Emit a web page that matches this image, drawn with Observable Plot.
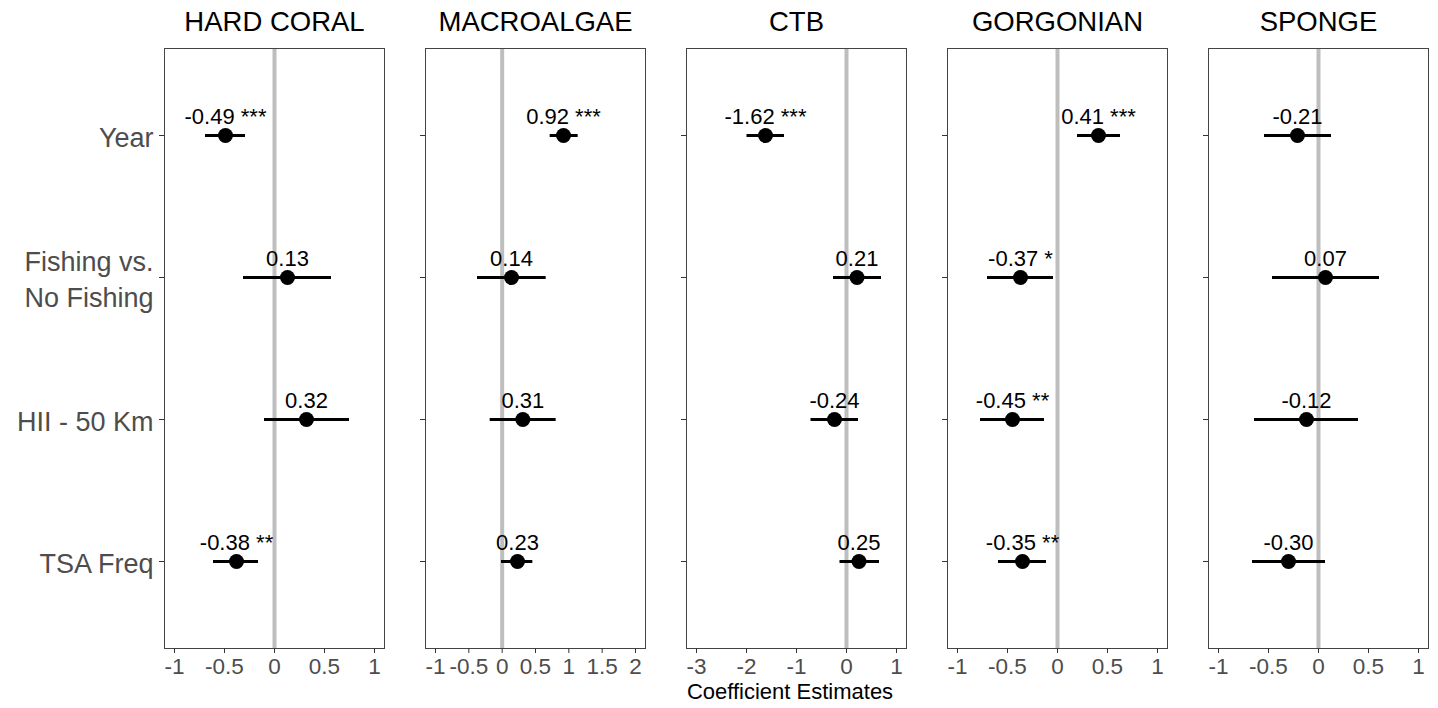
<!DOCTYPE html>
<html><head><meta charset="utf-8">
<script src="https://cdn.jsdelivr.net/npm/d3@7"></script>
<script src="https://cdn.jsdelivr.net/npm/@observablehq/plot@0.6"></script>
<style>
html,body{margin:0;padding:0;background:#fff;}
#chart{position:relative;width:1438px;height:708px;font-family:"Liberation Sans",Arial,sans-serif;overflow:hidden;}
#row{display:flex;flex-direction:row;align-items:flex-start;}
#xlabel{position:absolute;left:164px;width:1252px;top:680px;text-align:center;font-size:22px;color:#000;line-height:24px;}
</style></head><body>
<div id="chart"><div id="row"></div><div id="xlabel">Coefficient Estimates</div></div>
<script>
const panels = ["HARD CORAL", "MACROALGAE", "CTB", "GORGONIAN", "SPONGE"];
const predictors = ["Year", "Fishing vs.\nNo Fishing", "HII - 50 Km", "TSA Freq"];
const estimate = [
  [-0.49, 0.13, 0.32, -0.38],
  [0.92, 0.14, 0.31, 0.23],
  [-1.62, 0.21, -0.24, 0.25],
  [0.41, -0.37, -0.45, -0.35],
  [-0.21, 0.07, -0.12, -0.30]
];
const lower = [
  [-0.69, -0.31, -0.10, -0.61],
  [0.72, -0.37, -0.18, -0.01],
  [-1.99, -0.26, -0.71, -0.13],
  [0.20, -0.70, -0.77, -0.59],
  [-0.54, -0.46, -0.64, -0.66]
];
const upper = [
  [-0.29, 0.57, 0.75, -0.16],
  [1.14, 0.66, 0.81, 0.46],
  [-1.24, 0.70, 0.24, 0.66],
  [0.63, -0.04, -0.13, -0.11],
  [0.13, 0.61, 0.40, 0.07]
];
const stars = [
  ["***", "", "", "**"],
  ["***", "", "", ""],
  ["***", "", "", ""],
  ["***", "*", "**", "**"],
  ["", "", "", ""]
];
const xTicks = [
  [-1, -0.5, 0, 0.5, 1],
  [-1, -0.5, 0, 0.5, 1, 1.5, 2],
  [-3, -2, -1, 0, 1],
  [-1, -0.5, 0, 0.5, 1],
  [-1, -0.5, 0, 0.5, 1]
];
const xLimits = [
  [-1, 1],
  [-1, 2],
  [-3, 1],
  [-1, 1],
  [-1, 1]
];

const row = document.getElementById("row");
const FONT = '"Liberation Sans", Arial, sans-serif';

panels.forEach((panel, i) => {
  const data = predictors.map((p, j) => ({
    predictor: p,
    est: estimate[i][j],
    lo: lower[i][j],
    hi: upper[i][j],
    label: (estimate[i][j].toFixed(2) + " " + stars[i][j]).trim()
  }));
  const [a, b] = xLimits[i];
  const pad = (b - a) * 0.05;
  const first = i === 0, last = i === panels.length - 1;
  const marginLeft = first ? 164 : 40;
  const marginRight = last ? 10 : 1;
  const width = marginLeft + 220 + marginRight;

  const marks = [
    Plot.ruleX([0], {stroke: "#bebebe", strokeWidth: 4}),
    Plot.ruleY(data, {y: "predictor", x1: "lo", x2: "hi", stroke: "black", strokeWidth: 3}),
    Plot.dot(data, {x: "est", y: "predictor", r: 7.5, fill: "black", stroke: "none"}),
    Plot.text(data, {x: "est", y: "predictor", text: "label", dy: -12, lineAnchor: "bottom", fontSize: 22, fill: "black"}),
    Plot.frame({stroke: "#444", strokeWidth: 1}),
    Plot.text([panel], {frameAnchor: "top", dy: -26, lineAnchor: "middle", fontSize: 27.5, fill: "black"}),
    Plot.axisX({ticks: xTicks[i], tickFormat: d => String(d), tickSize: 5, tickPadding: 5, fontSize: 22.5, color: "#4d4d4d", stroke: "#333", label: null}),
    first
      ? Plot.axisY({tickSize: 5, tickPadding: 6, fontSize: 27, lineHeight: 1.33, color: "#4d4d4d", stroke: "#333", label: null})
      : Plot.axisY({tickSize: 5, fill: "none", stroke: "#333", label: null})
  ];

  const svg = Plot.plot({
    width,
    height: 685,
    marginTop: 48,
    marginBottom: 37,
    marginLeft,
    marginRight,
    style: {fontFamily: FONT, background: "white", color: "black", overflow: "visible"},
    x: {domain: [a - pad, b + pad], label: null},
    y: {type: "point", domain: predictors, padding: 0.6, label: null},
    marks
  });
  row.appendChild(svg);
});
</script>
</body></html>
